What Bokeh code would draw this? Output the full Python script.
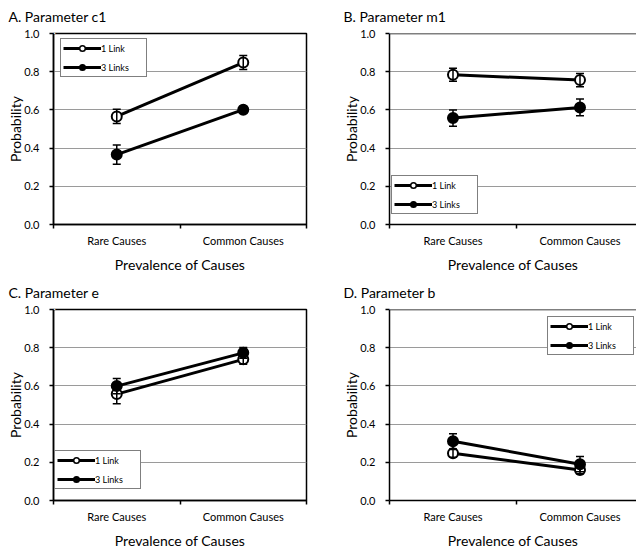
from bokeh.plotting import figure
from bokeh.models import (ColumnDataSource, Whisker, TeeHead, FixedTicker, Range1d,
                          Legend, LegendItem, Span, NumeralTickFormatter, Title)
from bokeh.layouts import row, column
from bokeh.embed import file_html
from bokeh.resources import INLINE

# ---------------- data ----------------
categories = ["Rare Causes", "Common Causes"]
series_names = ["1 Link", "3 Links"]
panel_titles = ["A. Parameter c1", "B. Parameter m1", "C. Parameter e", "D. Parameter b"]
x_title = "Prevalence of Causes"
y_title = "Probability"
y_ticks = [0.0, 0.2, 0.4, 0.6, 0.8, 1.0]

c1_one = [0.566, 0.848]
c1_one_err = [0.037, 0.037]
c1_three = [0.366, 0.601]
c1_three_err = [0.050, 0.017]

m1_one = [0.784, 0.756]
m1_one_err = [0.034, 0.035]
m1_three = [0.557, 0.613]
m1_three_err = [0.043, 0.044]

e_one = [0.557, 0.739]
e_one_err = [0.050, 0.025]
e_three = [0.599, 0.773]
e_three_err = [0.040, 0.028]

b_one = [0.247, 0.160]
b_one_err = [0.020, 0.020]
b_three = [0.310, 0.190]
b_three_err = [0.040, 0.040]

FONT = "Lato"


def make_panel(title, one, one_err, three, three_err, left_col, legend_xy):
    mb_left = 53 if left_col else 71
    mb_right = 12 if left_col else 0
    x_end = 2.0 if left_col else 1.945

    p = figure(width=318, height=276, output_backend="svg", toolbar_location=None,
               title=None,
               x_range=Range1d(0, x_end), y_range=Range1d(0, 1),
               min_border_left=mb_left, min_border_right=mb_right,
               min_border_top=33, min_border_bottom=52)
    p.background_fill_color = "white"
    p.border_fill_color = "white"
    if left_col:
        p.outline_line_color = "black"
        p.outline_line_width = 1.5
    else:
        p.outline_line_color = None
        p.add_layout(Span(location=1, dimension="width", line_color="black", line_width=1.5))

    # white spacer next to the frame, then the panel title above it
    p.add_layout(Title(text=".", text_color="white", text_font_size="8px", standoff=0), "above")
    p.add_layout(Title(text=title, align="left", offset=-45 if left_col else -46,
                       vertical_align="top", standoff=0, text_line_height=1.0,
                       text_font=FONT, text_font_size="14px", text_font_style="normal",
                       text_color="black"), "above")

    xs = [i + 0.5 for i in range(len(categories))]
    bounds = [float(i) for i in range(len(categories) + 1)]

    # x axis
    xa = p.xaxis[0]
    xa.ticker = FixedTicker(ticks=xs, minor_ticks=bounds)
    xa.major_label_overrides = {x: c for x, c in zip(xs, categories)}
    xa.major_tick_in = 0
    xa.major_tick_out = 0
    xa.minor_tick_in = 0
    xa.minor_tick_out = 4
    xa.minor_tick_line_color = "black"
    xa.minor_tick_line_width = 1.5
    xa.axis_line_color = "black"
    xa.axis_line_width = 1.5
    xa.major_label_text_font = FONT
    xa.major_label_text_font_size = "11px"
    xa.major_label_text_color = "black"
    xa.major_label_standoff = 5
    xa.axis_label = x_title
    xa.axis_label_text_font = FONT
    xa.axis_label_text_font_size = "14px"
    xa.axis_label_text_font_style = "normal"
    xa.axis_label_text_color = "black"
    xa.axis_label_standoff = 6

    # y axis
    ya = p.yaxis[0]
    ya.ticker = FixedTicker(ticks=y_ticks)
    ya.formatter = NumeralTickFormatter(format="0.0")
    ya.major_tick_in = 0
    ya.major_tick_out = 4
    ya.major_tick_line_color = "black"
    ya.major_tick_line_width = 1.5
    ya.minor_tick_line_color = None
    ya.axis_line_color = "black"
    ya.axis_line_width = 1.5
    ya.major_label_text_font = FONT
    ya.major_label_text_font_size = "11px"
    ya.major_label_text_color = "black"
    ya.major_label_standoff = 10
    ya.axis_label = y_title
    ya.axis_label_text_font = FONT
    ya.axis_label_text_font_size = "14px"
    ya.axis_label_text_font_style = "normal"
    ya.axis_label_text_color = "black"
    ya.axis_label_standoff = -3

    p.xgrid.grid_line_color = None
    p.ygrid.ticker = FixedTicker(ticks=y_ticks)
    p.ygrid.grid_line_color = "#9a9a9a"
    p.ygrid.grid_line_width = 1.2

    src1 = ColumnDataSource(dict(x=xs, y=one,
                                 lo=[v - e for v, e in zip(one, one_err)],
                                 hi=[v + e for v, e in zip(one, one_err)]))
    src3 = ColumnDataSource(dict(x=xs, y=three,
                                 lo=[v - e for v, e in zip(three, three_err)],
                                 hi=[v + e for v, e in zip(three, three_err)]))

    for s in (src1, src3):
        w = Whisker(source=s, base="x", lower="lo", upper="hi",
                    line_color="black", line_width=1.5, level="glyph",
                    upper_head=TeeHead(size=8, line_color="black", line_width=1.5),
                    lower_head=TeeHead(size=8, line_color="black", line_width=1.5))
        p.add_layout(w)

    l1 = p.line("x", "y", source=src1, line_color="black", line_width=3)
    l3 = p.line("x", "y", source=src3, line_color="black", line_width=3)
    # small key markers (used by the legend, hidden under the data markers)
    k1 = p.scatter("x", "y", source=src1, marker="circle", size=6,
                   fill_color="white", line_color="black", line_width=1.5)
    k3 = p.scatter("x", "y", source=src3, marker="circle", size=6,
                   fill_color="black", line_color="black", line_width=1.5)
    p.scatter("x", "y", source=src1, marker="circle", size=10,
              fill_color="white", line_color="black", line_width=2)
    p.scatter("x", "y", source=src3, marker="circle", size=10,
              fill_color="black", line_color="black", line_width=2)

    legend = Legend(items=[LegendItem(label=series_names[0], renderers=[l1, k1]),
                           LegendItem(label=series_names[1], renderers=[l3, k3])],
                    location=legend_xy)
    legend.padding = 2
    legend.margin = 0
    legend.spacing = 5
    legend.glyph_width = 38
    legend.glyph_height = 14
    legend.label_height = 14
    legend.label_width = 43
    legend.label_standoff = 0
    legend.label_text_font = FONT
    legend.label_text_font_size = "9px"
    legend.label_text_color = "black"
    legend.border_line_color = "black"
    legend.border_line_width = 1.2
    legend.background_fill_color = "white"
    legend.background_fill_alpha = 1.0
    p.add_layout(legend)
    return p


pA = make_panel(panel_titles[0], c1_one, c1_one_err, c1_three, c1_three_err, True, (7, 147))
pB = make_panel(panel_titles[1], m1_one, m1_one_err, m1_three, m1_three_err, False, (2, 10))
pC = make_panel(panel_titles[2], e_one, e_one_err, e_three, e_three_err, True, (1, 11))
pD = make_panel(panel_titles[3], b_one, b_one_err, b_three, b_three_err, False, (158, 145))

layout = column(row(pA, pB), row(pC, pD))
open("out.html", "w").write(file_html(layout, INLINE))
